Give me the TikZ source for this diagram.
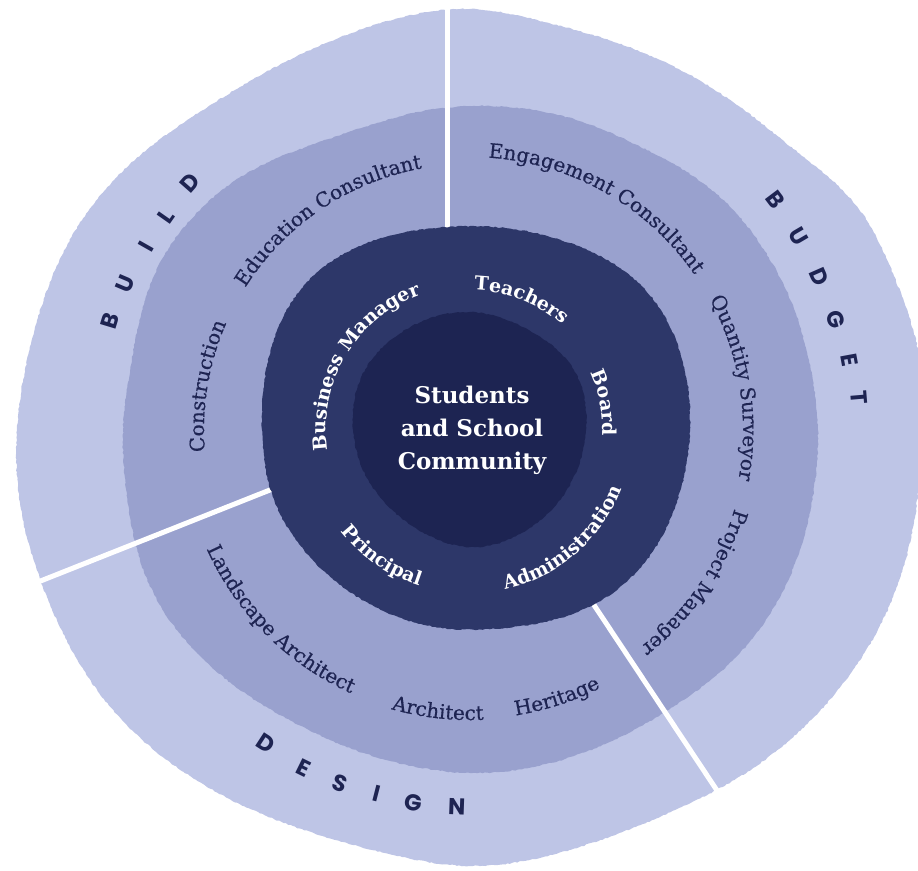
\documentclass[tikz,border=0pt]{standalone}
\usepackage{fontspec}
\setmainfont{DejaVu Serif}
\newfontfamily\capsfont{Poppins}
\newfontfamily\midfont[FakeBold=0.5]{DejaVu Serif}
\usetikzlibrary{decorations.text,decorations.pathmorphing,hobby}
\definecolor{outerc}{HTML}{BEC5E6}
\definecolor{midc}{HTML}{99A1CE}
\definecolor{navyc}{HTML}{2D3769}
\definecolor{corec}{HTML}{1D2452}
\definecolor{inkc}{HTML}{1E2452}
\newcommand\whitefmt{\color{white}\bfseries\fontsize{19}{19}\selectfont}
\newcommand\inkfmt{\color{inkc}\midfont\fontsize{20}{20}\selectfont}
% clockwise arc text (tops outward): angle, baseline radius, format, text
\newcommand\ArcOut[4]{%
  \pgfmathsetmacro\ArcA{#1+70}\pgfmathsetmacro\ArcB{#1-70}%
  \path[decorate,decoration={text along path,text align=center,text={|#3|#4}}]
    (\ArcA:#2) arc[start angle=\ArcA,end angle=\ArcB,radius=#2];}
% counter-clockwise arc text (tops inward)
\newcommand\ArcIn[4]{%
  \pgfmathsetmacro\ArcA{#1-70}\pgfmathsetmacro\ArcB{#1+70}%
  \path[decorate,decoration={text along path,text align=center,text={|#3|#4}}]
    (\ArcA:#2) arc[start angle=\ArcA,end angle=\ArcB,radius=#2];}
\tikzset{
  capsl/.style={font=\capsfont\bfseries\fontsize{23}{23}\selectfont,text=inkc,inner sep=0pt},
  gapline/.style={white,line width=5pt},
  rough/.style={decorate,decoration={random steps,segment length=2.5pt,amplitude=0.6pt}}
}
\begin{document}
\begin{tikzpicture}[x=1pt,y=1pt]
\pgfmathsetseed{7}
\useasboundingbox (0,0) rectangle (918,870);
\begin{scope}[shift={(470,440)}]
\fill[outerc,rough] plot[closed hobby] coordinates {
 (0:452) (10:455) (20:451) (30:447) (40:430) (50:421) (60:417) (70:414) (80:415) (90:421)
 (100:418) (110:413) (120:412) (130:417) (140:429) (150:440) (160:445) (170:448) (180:453)
 (190:456) (200:455) (210:455) (220:453) (230:446) (240:438) (250:432) (260:432) (270:436)
 (280:433) (290:430) (300:433) (310:441) (320:448) (330:453) (340:455) (350:453)};
\fill[midc,rough] plot[closed hobby] coordinates {
 (0:348) (10:346) (20:346) (30:345) (40:343) (50:337) (60:330) (70:328) (80:326) (90:324)
 (100:322) (110:321) (120:327) (130:339) (140:348) (150:352) (160:349) (170:345) (180:347)
 (190:349) (200:354) (210:356) (220:352) (230:346) (240:341) (250:340) (260:341) (270:343)
 (280:343) (290:342) (300:342) (310:345) (320:350) (330:352) (340:351) (350:349)};
\coordinate (t1) at (-23,440); \coordinate (t2) at (-23,195);
\coordinate (l1) at (-432,-152); \coordinate (l2) at (-195,-58);
\coordinate (r1) at (250,-365); \coordinate (r2) at (122,-172);
\draw[gapline] (t1) -- (t2);
\draw[gapline] (l1) -- (l2);
\draw[gapline] (r1) -- (r2);
\fill[navyc,rough] plot[closed hobby] coordinates {
 (0:220) (20:224) (40:224) (60:213) (80:205) (100:205) (120:214) (140:220) (160:214)
 (180:208) (200:208) (220:204) (240:201) (260:200) (280:201) (300:211) (320:219) (340:219)};
\fill[corec,rough] plot[closed hobby] coordinates {
 (0:116) (30:120) (60:116) (90:118) (120:119) (150:121) (180:117) (210:113) (240:112)
 (270:117) (300:115) (330:114)};
\node[align=center,text=white,font=\bfseries\fontsize{23}{33}\selectfont] (ctr) at (2,0) {Students\\and School\\Community};
% navy ring
\ArcOut{149}{144}{\whitefmt}{Business Manager}
\ArcOut{68.5}{140}{\whitefmt}{Teachers}
\ArcOut{11.5}{133}{\whitefmt}{Board}
\ArcIn{-49.3}{163}{\whitefmt}{Administration}
\ArcIn{-125}{164}{\whitefmt}{Principal}
% middle ring
\ArcOut{124}{266}{\inkfmt}{Education Consultant}
\ArcOut{170.5}{266}{\inkfmt}{Construction}
\ArcOut{60.4}{273}{\inkfmt}{Engagement Consultant}
\ArcOut{9.1}{273}{\inkfmt}{Quantity Surveyor}
\ArcOut{-34.2}{276}{\inkfmt}{Project Manager}
\ArcIn{-135}{289}{\inkfmt}{Landscape Architect}
\ArcIn{-96.5}{290}{\inkfmt}{Architect}
\ArcIn{-72}{289}{\inkfmt}{Heritage}
% outer ring
\foreach \a/\r/\l [count=\i] in {163.1/376/B,157/375/U,150.5/372/I,144.9/371/L,138.6/373/D}
  \node[capsl,rotate=\a-90] (build\i) at (\a:\r) {\l};
\foreach \a/\r/\l [count=\i] in {37/382/B,30.5/381/U,23.7/381/D,16.8/382/G,10.4/386/E,4.8/390/T}
  \node[capsl,rotate=\a-90] (budget\i) at (\a:\r) {\l};
\foreach \a/\r/\l [count=\i] in {-123/374/D,-116.2/377/E,-110.2/376/S,-104.4/375/I,-98.7/377/G,-92/377/N}
  \node[capsl,rotate=\a+90] (design\i) at (\a:\r) {\l};
\end{scope}
\end{tikzpicture}
\end{document}
